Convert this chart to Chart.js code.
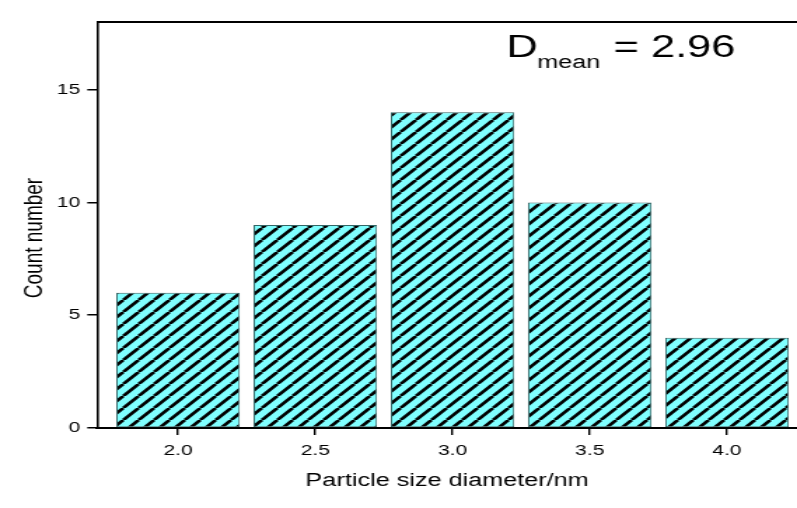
<!DOCTYPE html>
<html>
<head>
<meta charset="utf-8">
<script src="https://cdn.jsdelivr.net/npm/chart.js@4.4.0/dist/chart.umd.min.js"></script>
<style>
  html, body { margin: 0; padding: 0; background: #fff; }
</style>
</head>
<body>
<!-- drawn narrow and stretched sideways, like the original export -->
<canvas id="sizeChart" width="569" height="508" style="width:797px;height:508px;display:block"></canvas>
<script>
const sizes = [2.0, 2.5, 3.0, 3.5, 4.0];
const counts = [6, 9, 14, 10, 4];
const xTicks = [2.0, 2.5, 3.0, 3.5, 4.0];
const xTickLabels = ['2.0', '2.5', '3.0', '3.5', '4.0'];
const yTicks = [0, 5, 10, 15];
const meanValue = '2.96';

const FONT = '"Liberation Sans", Arial, sans-serif';
Chart.defaults.font.family = FONT;
Chart.defaults.color = '#000';

function makeHatch() {
  const c = document.createElement('canvas');
  c.width = 11;
  c.height = 12;
  const g = c.getContext('2d');
  g.fillStyle = '#80ffff';
  g.fillRect(0, 0, 11, 12);
  g.strokeStyle = '#000';
  g.lineWidth = 2.7;
  for (let n = -1; n <= 1; n++) {
    g.beginPath();
    g.moveTo(n * 11, 12);
    g.lineTo((n + 1) * 11, 0);
    g.stroke();
  }
  return g.createPattern(c, 'repeat');
}

// top frame line, y title (sits a bit below centre in the original) and D_mean text
const extras = {
  id: 'extras',
  afterDraw(chart) {
    const { ctx, chartArea } = chart;
    ctx.save();
    ctx.strokeStyle = '#000';
    ctx.lineWidth = 2;
    ctx.beginPath();
    ctx.moveTo(chartArea.left, chartArea.top);
    ctx.lineTo(chartArea.right, chartArea.top);
    ctx.stroke();

    ctx.fillStyle = '#000';
    ctx.save();
    ctx.translate(25, 238);
    ctx.rotate(-Math.PI / 2);
    ctx.textAlign = 'center';
    ctx.textBaseline = 'middle';
    ctx.font = '19px ' + FONT;
    ctx.fillText('Count number', 0, 0);
    ctx.restore();

    ctx.textBaseline = 'alphabetic';
    ctx.textAlign = 'left';
    ctx.font = '31px ' + FONT;
    ctx.fillText('D', 361.5, 57);
    ctx.fillText('= ' + meanValue, 438, 57);
    ctx.font = '18px ' + FONT;
    ctx.fillText('mean', 383.5, 68);
    ctx.restore();
  }
};

const ctx = document.getElementById('sizeChart').getContext('2d');

new Chart(ctx, {
  type: 'bar',
  data: {
    datasets: [{
      data: counts.map((c, i) => ({ x: sizes[i], y: c })),
      backgroundColor: makeHatch(),
      borderColor: '#336666',
      borderWidth: 1,
      borderSkipped: false,
      barPercentage: 0.9,
      categoryPercentage: 1.0
    }]
  },
  options: {
    responsive: false,
    animation: false,
    devicePixelRatio: 1,
    layout: { padding: { top: 22, right: 0, left: 0, bottom: 0 } },
    plugins: {
      legend: { display: false },
      tooltip: { enabled: false }
    },
    scales: {
      x: {
        type: 'linear',
        min: 1.705,
        max: 4.255,
        offset: false,
        z: 1,
        afterBuildTicks: s => { s.ticks = xTicks.map(v => ({ value: v })); },
        afterFit: s => { s.height = 80; },
        grid: { offset: false, drawOnChartArea: false, tickLength: 7, color: '#000', lineWidth: 1.4 },
        border: { color: '#000', width: 2 },
        ticks: {
          callback: (v, i) => xTickLabels[i],
          font: { size: 15 },
          padding: 7,
          maxRotation: 0,
          autoSkip: false
        },
        title: {
          display: true,
          text: 'Particle size diameter/nm',
          font: { size: 18 },
          padding: { top: 0, bottom: 16 }
        }
      },
      y: {
        min: 0,
        max: 18,
        z: 1,
        afterBuildTicks: s => { s.ticks = yTicks.map(v => ({ value: v })); },
        afterFit: s => { s.width = 69.3; },
        grid: { drawOnChartArea: false, tickLength: 7, color: '#000', lineWidth: 1.5 },
        border: { color: '#000', width: 1.6 },
        ticks: { font: { size: 15 }, padding: 5 }
      }
    }
  },
  plugins: [extras]
});
</script>
</body>
</html>
